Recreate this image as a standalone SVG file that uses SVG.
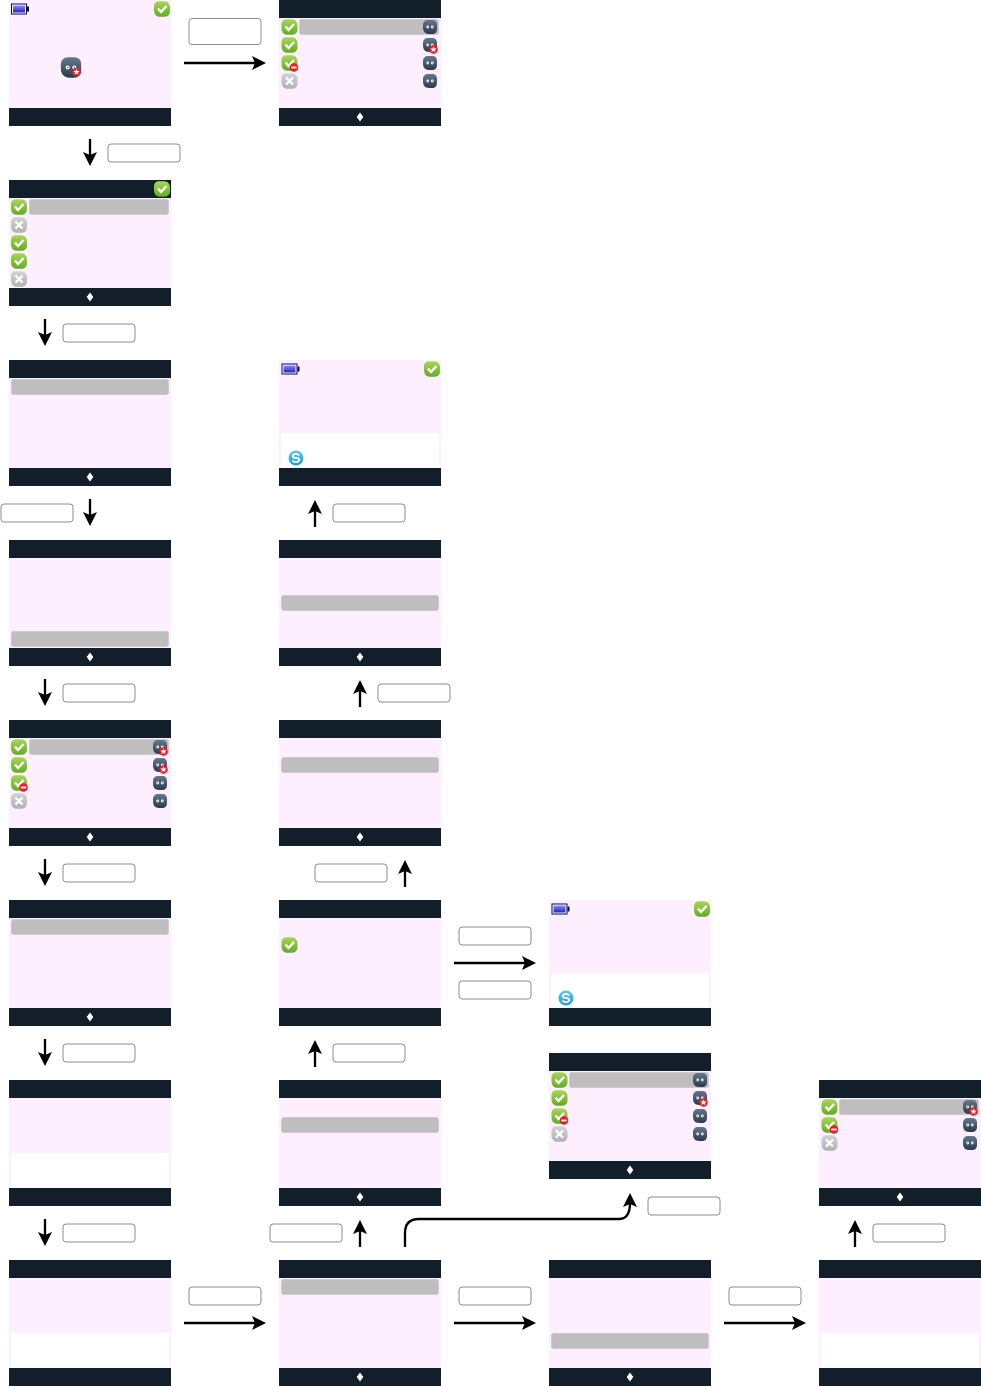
<svg xmlns="http://www.w3.org/2000/svg" width="981" height="1386" viewBox="0 0 981 1386">
<style>
.bg{fill:#fdeffe}
.bar{fill:#121f2a}
.sel{fill:#bebebe;stroke:#cfc8cf;stroke-width:1}
.box{fill:#fff;stroke:#fff}
.lab{fill:#fff;stroke:#8c8c8c;stroke-width:1}
.con{fill:none;stroke:#000;stroke-width:2.3;marker-end:url(#arrow)}
</style>
<defs>
<linearGradient id="gGreen" x1="0" y1="0" x2="0" y2="1"><stop offset="0" stop-color="#a9d65a"/><stop offset="1" stop-color="#62ad1e"/></linearGradient>
<linearGradient id="gGrey" x1="0" y1="0" x2="0" y2="1"><stop offset="0" stop-color="#d2d4d4"/><stop offset="1" stop-color="#aeb2b2"/></linearGradient>
<linearGradient id="gVm" x1="0" y1="0" x2="0" y2="1"><stop offset="0" stop-color="#66798c"/><stop offset="1" stop-color="#2a3a4d"/></linearGradient>
<linearGradient id="gBat" x1="0" y1="0" x2="0" y2="1"><stop offset="0" stop-color="#8a8aff"/><stop offset="1" stop-color="#2222b8"/></linearGradient>
<linearGradient id="gSky" x1="0" y1="0" x2="0" y2="1"><stop offset="0" stop-color="#5cc8f2"/><stop offset="1" stop-color="#1a9fdf"/></linearGradient>
<marker id="arrow" markerUnits="userSpaceOnUse" markerWidth="15" markerHeight="15" refX="4" refY="7.500" orient="auto"><path d="M0 .5L14 7.500L0 14.500L3 7.500z" fill="#000"/></marker>
<path id="leaf" d="M-3-7.800H2C6-7.800 8-5 8-1V2C8 6 5.500 7.800 2 7.800H-2C-6 7.800-8 5-8 1V-3C-8-6-6-7.800-3-7.800z"/>
<g id="chk"><use href="#leaf" fill="url(#gGreen)"/><path d="M-4-.5L-1 3L4.500-3" fill="none" stroke="#fff" stroke-width="2.400"/></g>
<g id="off"><use href="#leaf" fill="url(#gGrey)"/><path d="M-3.500-3.500L3.500 3.500M3.500-3.500L-3.500 3.500" fill="none" stroke="#fff" stroke-width="2.400"/></g>
<g id="bus"><use href="#chk"/><circle cx="4.500" cy="4.500" r="4.300" fill="#ee1c25"/><rect x="1.800" y="3.600" width="5.400" height="1.800" fill="#fff"/></g>
<g id="vm"><path d="M-2-7H2C5.500-7 7-5 7-2V2C7 5 5 7 2 7H-1C-5 7-7 4-7 1V-2C-7-5-5-7-2-7z" fill="url(#gVm)"/><circle cx="-2.300" cy="0" r="1.400" fill="#fff"/><circle cx="2.300" cy="0" r="1.400" fill="#fff"/><circle cx="-2.300" cy="0" r=".5" fill="#3a4a5c"/><circle cx="2.300" cy="0" r=".5" fill="#3a4a5c"/></g>
<g id="star"><circle r="4.300" fill="#ee1c25"/><path d="M0-3.200L.9-1H3.200L1.400.4L2.100 2.700L0 1.300L-2.100 2.700L-1.400.4L-3.200-1H-.9z" fill="#fff"/></g>
<g id="vms"><use href="#vm"/><use href="#star" x="3.500" y="4.500"/></g>
<g id="bat"><rect x="-8" y="-5" width="15" height="10" fill="#fff" stroke="#00007a" stroke-width="1"/><rect x="-6.500" y="-3.500" width="12" height="7" fill="url(#gBat)"/><rect x="7.500" y="-2.500" width="2" height="5" fill="#111"/></g>
<g id="sky"><circle r="7.500" fill="url(#gSky)"/><path d="M3.200-2.600Q2-4-.2-4Q-3.300-4-3.200-1.900Q-3.100-.2 0 0Q3.300 .3 3.200 2Q3 4-.2 4Q-2.500 4-3.500 2.400" fill="none" stroke="#fff" stroke-width="1.800"/></g>
<path id="dia" d="M0-4.500L3.300 0L0 4.500L-3.300 0z" fill="#fff"/>
</defs>
<rect width="981" height="1386" fill="#fff"/>

<g id="screen-01"><rect class="bg" x="9" y="0" width="162" height="108"/><rect class="bar" x="9" y="108" width="162" height="18"/><use href="#bat" x="19.500" y="9"/><use href="#chk" x="162" y="9"/><g transform="translate(71 67.500) scale(1.450)"><use href="#vm"/></g><use href="#star" x="76.500" y="72"/></g>

<g id="screen-02"><rect class="bg" x="279" y="18" width="162" height="90"/><rect class="bar" x="279" y="0" width="162" height="18"/><rect class="bar" x="279" y="108" width="162" height="18"/><rect class="sel" x="299.500" y="19.500" width="139" height="15" rx="2"/><use href="#chk" x="289.500" y="27"/><use href="#chk" x="289.500" y="45"/><use href="#bus" x="289.500" y="63"/><use href="#off" x="289.500" y="81"/><use href="#vm" x="430" y="27"/><use href="#vms" x="430" y="45"/><use href="#vm" x="430" y="63"/><use href="#vm" x="430" y="81"/><use href="#dia" x="360" y="117"/></g>

<g id="screen-03"><rect class="bg" x="9" y="198" width="162" height="90"/><rect class="bar" x="9" y="180" width="162" height="18"/><rect class="bar" x="9" y="288" width="162" height="18"/><rect class="sel" x="29.500" y="199.500" width="139" height="15" rx="2"/><use href="#chk" x="162" y="189"/><use href="#chk" x="19" y="207"/><use href="#off" x="19" y="225"/><use href="#chk" x="19" y="243"/><use href="#chk" x="19" y="261"/><use href="#off" x="19" y="279"/><use href="#dia" x="90" y="297"/></g>

<g id="screen-04"><rect class="bg" x="9" y="378" width="162" height="90"/><rect class="bar" x="9" y="360" width="162" height="18"/><rect class="bar" x="9" y="468" width="162" height="18"/><rect class="sel" x="11.500" y="379.500" width="157" height="15" rx="2"/><use href="#dia" x="90" y="477"/></g>

<g id="screen-05"><rect class="bg" x="9" y="558" width="162" height="90"/><rect class="bar" x="9" y="540" width="162" height="18"/><rect class="bar" x="9" y="648" width="162" height="18"/><rect class="sel" x="11.500" y="631.500" width="157" height="15" rx="2"/><use href="#dia" x="90" y="657"/></g>

<g id="screen-06"><rect class="bg" x="9" y="738" width="162" height="90"/><rect class="bar" x="9" y="720" width="162" height="18"/><rect class="bar" x="9" y="828" width="162" height="18"/><rect class="sel" x="29.500" y="739.500" width="139" height="15" rx="2"/><use href="#chk" x="19" y="747"/><use href="#chk" x="19" y="765"/><use href="#bus" x="19" y="783"/><use href="#off" x="19" y="801"/><use href="#vms" x="160" y="747"/><use href="#vms" x="160" y="765"/><use href="#vm" x="160" y="783"/><use href="#vm" x="160" y="801"/><use href="#dia" x="90" y="837"/></g>

<g id="screen-07"><rect class="bg" x="9" y="918" width="162" height="90"/><rect class="bar" x="9" y="900" width="162" height="18"/><rect class="bar" x="9" y="1008" width="162" height="18"/><rect class="sel" x="11.500" y="919.500" width="157" height="15" rx="2"/><use href="#dia" x="90" y="1017"/></g>

<g id="screen-08"><rect class="bg" x="9" y="1098" width="162" height="90"/><rect class="bar" x="9" y="1080" width="162" height="18"/><rect class="bar" x="9" y="1188" width="162" height="18"/><rect class="box" x="11.500" y="1153.500" width="157" height="33.500"/></g>

<g id="screen-09"><rect class="bg" x="9" y="1278" width="162" height="90"/><rect class="bar" x="9" y="1260" width="162" height="18"/><rect class="bar" x="9" y="1368" width="162" height="18"/><rect class="box" x="11.500" y="1333.500" width="157" height="33.500"/></g>

<g id="screen-10"><rect class="bg" x="279" y="360" width="162" height="108"/><rect class="bar" x="279" y="468" width="162" height="18"/><rect class="box" x="281.500" y="433.500" width="157" height="33.500" rx="1"/><use href="#bat" x="290" y="369"/><use href="#chk" x="432" y="369"/><use href="#sky" x="296" y="458"/></g>

<g id="screen-11"><rect class="bg" x="279" y="558" width="162" height="90"/><rect class="bar" x="279" y="540" width="162" height="18"/><rect class="bar" x="279" y="648" width="162" height="18"/><rect class="sel" x="281.500" y="595.500" width="157" height="15" rx="2"/><use href="#dia" x="360" y="657"/></g>

<g id="screen-12"><rect class="bg" x="279" y="738" width="162" height="90"/><rect class="bar" x="279" y="720" width="162" height="18"/><rect class="bar" x="279" y="828" width="162" height="18"/><rect class="sel" x="281.500" y="757.500" width="157" height="15" rx="2"/><use href="#dia" x="360" y="837"/></g>

<g id="screen-13"><rect class="bg" x="279" y="918" width="162" height="90"/><rect class="bar" x="279" y="900" width="162" height="18"/><rect class="bar" x="279" y="1008" width="162" height="18"/><use href="#chk" x="289.500" y="945"/></g>

<g id="screen-14"><rect class="bg" x="279" y="1098" width="162" height="90"/><rect class="bar" x="279" y="1080" width="162" height="18"/><rect class="bar" x="279" y="1188" width="162" height="18"/><rect class="sel" x="281.500" y="1117.500" width="157" height="15" rx="2"/><use href="#dia" x="360" y="1197"/></g>

<g id="screen-15"><rect class="bg" x="279" y="1278" width="162" height="90"/><rect class="bar" x="279" y="1260" width="162" height="18"/><rect class="bar" x="279" y="1368" width="162" height="18"/><rect class="sel" x="281.500" y="1279.500" width="157" height="15" rx="2"/><use href="#dia" x="360" y="1377"/></g>

<g id="screen-16"><rect class="bg" x="549" y="900" width="162" height="108"/><rect class="bar" x="549" y="1008" width="162" height="18"/><rect class="box" x="551.500" y="973.500" width="157" height="33.500" rx="1"/><use href="#bat" x="560" y="909"/><use href="#chk" x="702" y="909"/><use href="#sky" x="566" y="998"/></g>

<g id="screen-17"><rect class="bg" x="549" y="1071" width="162" height="90"/><rect class="bar" x="549" y="1053" width="162" height="18"/><rect class="bar" x="549" y="1161" width="162" height="18"/><rect class="sel" x="569.500" y="1072.500" width="139" height="15" rx="2"/><use href="#chk" x="559.500" y="1080"/><use href="#chk" x="559.500" y="1098"/><use href="#bus" x="559.500" y="1116"/><use href="#off" x="559.500" y="1134"/><use href="#vm" x="700" y="1080"/><use href="#vms" x="700" y="1098"/><use href="#vm" x="700" y="1116"/><use href="#vm" x="700" y="1134"/><use href="#dia" x="630" y="1170"/></g>

<g id="screen-18"><rect class="bg" x="549" y="1278" width="162" height="90"/><rect class="bar" x="549" y="1260" width="162" height="18"/><rect class="bar" x="549" y="1368" width="162" height="18"/><rect class="sel" x="551.500" y="1333.500" width="157" height="15" rx="2"/><use href="#dia" x="630" y="1377"/></g>

<g id="screen-19"><rect class="bg" x="819" y="1098" width="162" height="90"/><rect class="bar" x="819" y="1080" width="162" height="18"/><rect class="bar" x="819" y="1188" width="162" height="18"/><rect class="sel" x="839.500" y="1099.500" width="139" height="15" rx="2"/><use href="#chk" x="829.500" y="1107"/><use href="#bus" x="829.500" y="1125"/><use href="#off" x="829.500" y="1143"/><use href="#vms" x="970" y="1107"/><use href="#vm" x="970" y="1125"/><use href="#vm" x="970" y="1143"/><use href="#dia" x="900" y="1197"/></g>

<g id="screen-20"><rect class="bg" x="819" y="1278" width="162" height="90"/><rect class="bar" x="819" y="1260" width="162" height="18"/><rect class="bar" x="819" y="1368" width="162" height="18"/><rect class="box" x="821.500" y="1333.500" width="157" height="33.500"/></g>

<g id="labels">
<rect class="lab" x="189" y="18.500" width="72" height="26" rx="3"/>
<rect class="lab" x="108" y="144" width="72" height="18" rx="3"/>
<rect class="lab" x="63" y="324" width="72" height="18" rx="3"/>
<rect class="lab" x="1" y="504" width="72" height="18" rx="3"/>
<rect class="lab" x="333" y="504" width="72" height="18" rx="3"/>
<rect class="lab" x="63" y="684" width="72" height="18" rx="3"/>
<rect class="lab" x="378" y="684" width="72" height="18" rx="3"/>
<rect class="lab" x="63" y="864" width="72" height="18" rx="3"/>
<rect class="lab" x="315" y="864" width="72" height="18" rx="3"/>
<rect class="lab" x="459" y="927" width="72" height="18" rx="3"/>
<rect class="lab" x="459" y="981" width="72" height="18" rx="3"/>
<rect class="lab" x="63" y="1044" width="72" height="18" rx="3"/>
<rect class="lab" x="333" y="1044" width="72" height="18" rx="3"/>
<rect class="lab" x="63" y="1224" width="72" height="18" rx="3"/>
<rect class="lab" x="270" y="1224" width="72" height="18" rx="3"/>
<rect class="lab" x="648" y="1197" width="72" height="18" rx="3"/>
<rect class="lab" x="873" y="1224" width="72" height="18" rx="3"/>
<rect class="lab" x="189" y="1287" width="72" height="18" rx="3"/>
<rect class="lab" x="459" y="1287" width="72" height="18" rx="3"/>
<rect class="lab" x="729" y="1287" width="72" height="18" rx="3"/>
</g>

<g id="connectors">
<path class="con" d="M184 63H256"/>
<path class="con" d="M90 139V156"/>
<path class="con" d="M45 319V336"/>
<path class="con" d="M90 499V516"/>
<path class="con" d="M45 679V696"/>
<path class="con" d="M45 859V876"/>
<path class="con" d="M45 1039V1056"/>
<path class="con" d="M45 1219V1236"/>
<path class="con" d="M315 527V510"/>
<path class="con" d="M360 707V690"/>
<path class="con" d="M405 887V870"/>
<path class="con" d="M315 1067V1050"/>
<path class="con" d="M360 1247V1230"/>
<path class="con" d="M855 1247V1230"/>
<path class="con" d="M454 963H526"/>
<path class="con" d="M184 1323H256"/>
<path class="con" d="M454 1323H526"/>
<path class="con" d="M724 1323H796"/>
<path class="con" d="M405 1247V1233Q405 1219 419 1219H619Q630 1219 630 1203"/>
</g>
</svg>
